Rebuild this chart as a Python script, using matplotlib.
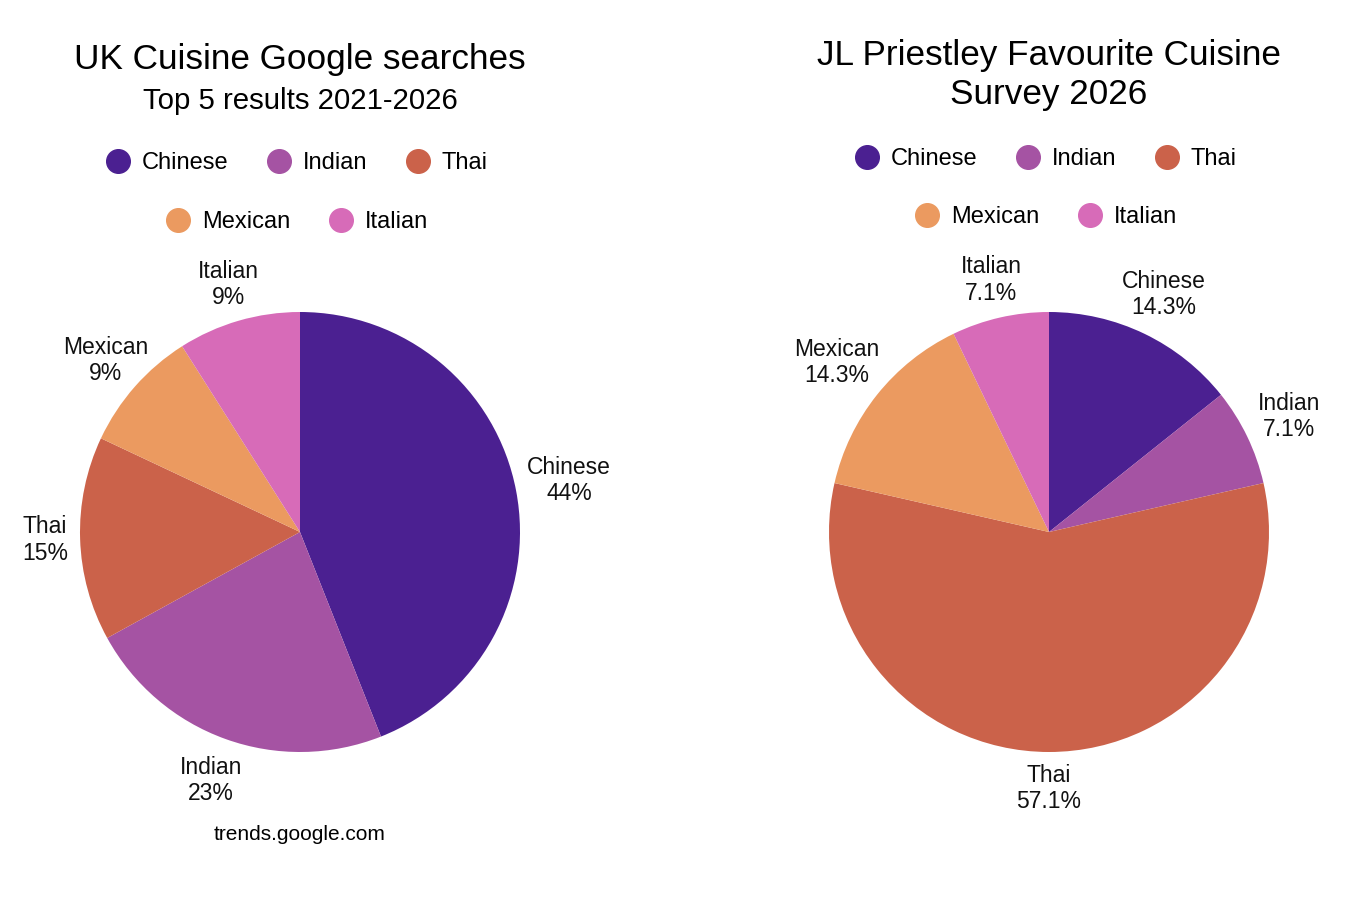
import matplotlib
matplotlib.use("Agg")
import matplotlib.pyplot as plt
from matplotlib.lines import Line2D
import numpy as np

plt.rcParams['font.family'] = ['Liberation Sans', 'DejaVu Sans']

categories = ["Chinese", "Indian", "Thai", "Mexican", "Italian"]
colors = ["#4b2091", "#a553a3", "#cb624a", "#eb9a60", "#d76bb8"]

left_values = [44, 23, 15, 9, 9]
left_labels = ["44%", "23%", "15%", "9%", "9%"]
right_values = [2, 1, 8, 2, 1]
right_labels = ["14.3%", "7.1%", "57.1%", "14.3%", "7.1%"]

W, H = 1350, 900
fig = plt.figure(figsize=(13.5, 9), dpi=100)
fig.patch.set_facecolor("white")

R = 220


def make_pie(cx, cy, values, pct_labels, dist):
    ax = fig.add_axes([(cx - R) / W, (H - cy - R) / H, 2 * R / W, 2 * R / H])
    wedges, _ = ax.pie(values, colors=colors, startangle=90, counterclock=False,
                       radius=1.0, wedgeprops=dict(linewidth=0))
    ax.set_xlim(-1, 1)
    ax.set_ylim(-1, 1)
    ax.set_aspect("auto")
    ax.axis("off")
    for w, cat, lab, d in zip(wedges, categories, pct_labels, dist):
        ang = np.deg2rad((w.theta1 + w.theta2) / 2)
        ax.text(d * np.cos(ang), d * np.sin(ang), f"{cat}\n{lab}", ha="center",
                va="center", fontsize=16.5, linespacing=1.18, clip_on=False, color="#111111")
    return ax


make_pie(300, 532, left_values, left_labels, [1.245, 1.2, 1.16, 1.18, 1.17])
make_pie(1049, 532, right_values, right_labels, [1.2, 1.21, 1.165, 1.233, 1.175])

# Titles
fig.text(300 / W, 1 - 60 / H, "UK Cuisine Google searches", ha="center", va="center", fontsize=25.3)
fig.text(300 / W, 1 - 101 / H, "Top 5 results 2021-2026", ha="center", va="center", fontsize=21.2)
fig.text(1049 / W, 1 - 75 / H, "JL Priestley Favourite Cuisine\nSurvey 2026", ha="center",
         va="center", fontsize=25.3, linespacing=1.2)
fig.text(300 / W, 1 - 834 / H, "trends.google.com", ha="center", va="center", fontsize=15)

# Legends
handles = [Line2D([0], [0], marker="o", linestyle="none", markersize=17,
                  markerfacecolor=c, markeredgecolor=c) for c in colors]


def add_legend(cx, cy, idx, ncol):
    leg = fig.legend([handles[i] for i in idx], [categories[i] for i in idx], loc="center",
                     bbox_to_anchor=(cx / W, 1 - cy / H), ncol=ncol, frameon=False,
                     fontsize=17, handletextpad=0.4, columnspacing=1.55, handlelength=1.2,
                     borderaxespad=0)
    return leg


add_legend(296, 163, [0, 1, 2], 3)
add_legend(296, 222, [3, 4], 2)
add_legend(1045, 159, [0, 1, 2], 3)
add_legend(1045, 217, [3, 4], 2)

fig.savefig("out.png", dpi=100, facecolor="white")
